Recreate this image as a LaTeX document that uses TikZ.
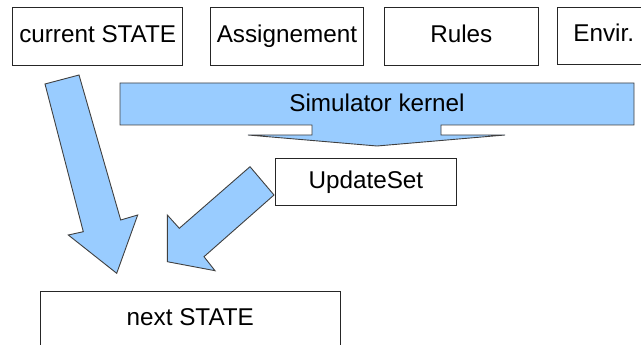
\documentclass[tikz,border=0pt]{standalone}
\usepackage{fontspec}
\setmainfont{Liberation Sans}
\newlength\pxu
\setlength\pxu{0.75pt}
\definecolor{arrowblue}{RGB}{153,204,255}
\begin{document}
\begin{tikzpicture}[x=0.75pt, y=-0.75pt,
  lbl/.style={font=\fontsize{18.2pt}{22pt}\selectfont, text height=12.6pt, text depth=3.8pt, inner sep=0pt},
  box/.style={lbl, draw=black!85, line width=0.9\pxu, fill=white},
  blockarrow/.style={fill=arrowblue, draw=black!75, line width=0.9\pxu, line join=miter}]
\useasboundingbox (0,0) rectangle (641,345);
\clip (0,0) rectangle (641,345);

% top row of inputs
\node[box, minimum width=170\pxu,   minimum height=58.4\pxu] (cur) at (97.7,36.5)  {current STATE};
\node[box, minimum width=152.3\pxu, minimum height=58.4\pxu] (asg) at (286.9,36.5) {Assignement};
\node[box, minimum width=154\pxu,   minimum height=58.4\pxu] (rul) at (461.3,36.5) {Rules};
\node[box, minimum width=92\pxu,    minimum height=57\pxu]   (env) at (603.7,35.8) {Envir.};

% simulator kernel: wide bar with a flat arrow head
\draw[blockarrow] (120,83) -- (634,83) -- (634,125) -- (441,125) -- (441,135)
  -- (505,135) -- (377,146) -- (248,135) -- (312,135) -- (312,125) -- (120,125) -- cycle;
\node[lbl] (sim) at (377,105.5) {Simulator kernel};

% update set and result
\node[box, minimum width=180.3\pxu, minimum height=46.7\pxu] (upd) at (365.9,182.2) {UpdateSet};
\node[box, minimum width=299.3\pxu, minimum height=57.3\pxu] (nxt) at (190.3,319.8) {next STATE};

% block arrow from the current state down to the next state
\draw[blockarrow] (45,84) -- (79,75) -- (120.7,220) -- (137.7,215) -- (116.7,273.3)
  -- (68.3,235) -- (83.3,231.7) -- cycle;

% block arrow from the update set down to the next state
\draw[blockarrow] (250,166.7) -- (274,195) -- (204,256.7) -- (215,270.7) -- (167.3,261.7)
  -- (167.3,215) -- (179.3,228.3) -- cycle;
\end{tikzpicture}
\end{document}
